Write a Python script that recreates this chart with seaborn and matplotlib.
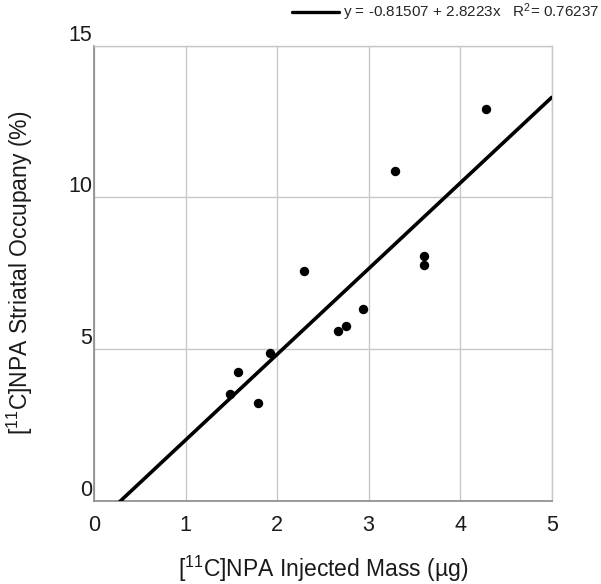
import numpy as np
import pandas as pd
import matplotlib
matplotlib.use("Agg")
import matplotlib.pyplot as plt
import seaborn as sns
from matplotlib.ticker import MultipleLocator

# ---- data ----
injected_mass = [1.49, 1.57, 1.79, 1.92, 2.29, 2.67, 2.75, 2.94, 3.29, 3.60, 3.61, 4.28]
occupancy     = [3.53, 4.26, 3.23, 4.89, 7.57, 5.60, 5.78, 6.33, 10.88, 7.78, 8.06, 12.92]
fit_intercept = -0.81507
fit_slope = 2.8223
fit_r2 = 0.76237
x_range = [0, 5]
y_range = [0, 15]
x_ticks = [0, 1, 2, 3, 4, 5]
y_ticks = [0, 5, 10, 15]

sns.set_theme(style="white")
plt.rcParams['font.family'] = ['Liberation Sans', 'DejaVu Sans']
plt.rcParams['mathtext.fontset'] = 'custom'
plt.rcParams['mathtext.rm'] = 'Liberation Sans'
plt.rcParams['mathtext.it'] = 'Liberation Sans:italic'
plt.rcParams['mathtext.bf'] = 'Liberation Sans:bold'

fig = plt.figure(figsize=(6.01, 5.84), dpi=100)
ax = fig.add_axes([94 / 601, 1 - 501 / 584, (551.7 - 94) / 601, (501 - 45.7) / 584])

df = pd.DataFrame({"mass": injected_mass, "occ": occupancy})
fit_x = np.array(x_range, dtype=float)
fit_df = pd.DataFrame({"x": fit_x, "y": fit_intercept + fit_slope * fit_x})

label = f"y = {fit_intercept} + {fit_slope}x   R$^{{2}}$= {fit_r2}"
sns.lineplot(data=fit_df, x="x", y="y", ax=ax, color="black", linewidth=2.6,
             label=label, zorder=3)
sns.scatterplot(data=df, x="mass", y="occ", ax=ax, color="black", s=46,
                edgecolor="black", linewidth=0, zorder=4, legend=False)

ax.set_xlim(*x_range)
ax.set_ylim(*y_range)
ax.set_xticks(x_ticks)
ax.set_yticks(y_ticks)
ax.xaxis.set_minor_locator(MultipleLocator(0.2))
ax.yaxis.set_minor_locator(MultipleLocator(0.5))
ax.grid(True, which="major", color="#c8c8c8", linewidth=1.0, zorder=0)
ax.set_axisbelow(True)

for side in ["left", "bottom"]:
    ax.spines[side].set_color("#8a8a8a")
    ax.spines[side].set_linewidth(1.2)
for side in ["top", "right"]:
    ax.spines[side].set_color("#c8c8c8")
    ax.spines[side].set_linewidth(1.0)

ax.tick_params(axis="both", which="both", direction="in", colors="#8a8a8a",
               labelcolor="#1a1a1a", labelsize=15.5)
ax.tick_params(axis="both", which="major", length=5, width=1)
ax.tick_params(axis="both", which="minor", length=3, width=0.8)
ax.tick_params(axis="x", which="major", pad=10)
ax.tick_params(axis="y", which="major", pad=1.5)
ax.tick_params(top=False, right=False, which="both")
for t in ax.get_yticklabels():
    t.set_verticalalignment("bottom")

ax.set_xlabel(r"[$^{\mathrm{11}}$C]NPA Injected Mass (µg)", fontsize=16.5,
              color="#1a1a1a", labelpad=13)
ax.set_ylabel(r"[$^{\mathrm{11}}$C]NPA Striatal Occupany (%)", fontsize=16.5,
              color="#1a1a1a", labelpad=24)

handles, labels = ax.get_legend_handles_labels()
ax.get_legend().remove()
leg = fig.legend(handles=handles, labels=labels,
                 loc="upper right", bbox_to_anchor=(0.997, 0.997), frameon=False,
                 fontsize=11, handlelength=3.1, handletextpad=0.25,
                 borderaxespad=0, borderpad=0)
for line in leg.get_lines():
    line.set_linewidth(2.4)

fig.savefig("out.png", dpi=100, facecolor="white")
